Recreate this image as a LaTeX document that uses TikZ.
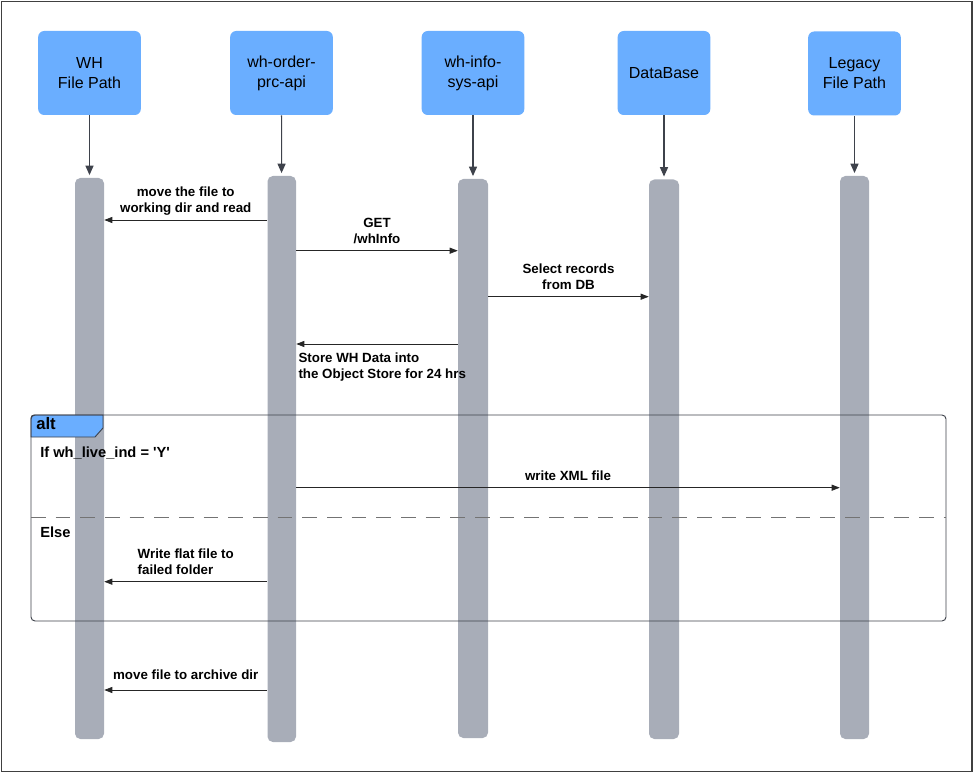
\documentclass[tikz,border=0pt]{standalone}
\usepackage{fontspec}
\setmainfont{Liberation Sans}
\usetikzlibrary{arrows.meta,fit}
\definecolor{headblue}{RGB}{106,174,255}
\definecolor{bargray}{RGB}{168,173,184}
\definecolor{linegray}{RGB}{62,66,75}

\begin{document}
\begin{tikzpicture}[x=0.75pt,y=0.75pt,yscale=-1,
  head/.style={fill=headblue, rounded corners=4.5pt, minimum width=77pt, minimum height=63pt, inner sep=0pt, align=center, font=\fontsize{12}{15}\selectfont},
  bar/.style={fill=bargray, rounded corners=4pt, inner sep=0pt},
  life/.style={draw=linegray, line width=0.8pt, -{Triangle[length=7pt,width=6pt]}, shorten >=2pt},
  msg/.style={draw=black!85, line width=0.55pt, -{Triangle[length=6pt,width=4.5pt]}},
  lbl/.style={font=\fontsize{10}{12}\selectfont\bfseries, align=center, inner sep=1.5pt, text depth=0pt},
  tag/.style={font=\fontsize{11}{13}\selectfont\bfseries, anchor=base west, inner sep=0pt}]
\useasboundingbox (0,0) rectangle (977,773);

%Shape: Rectangle [outer frame]
\draw [draw=black!75, line width=0.8pt] (1.5,1.5) rectangle (972,771.5);

%Shape: Rectangle [participants]
\node [head] (hWH) at (89.5,73) {WH\\File Path};
\node [head] (hOrd) at (281.5,73) {wh-order-\\prc-api};
\node [head] (hInfo) at (473,73) {wh-info-\\sys-api};
\node [head, minimum width=69.5pt] (hDB) at (664,73) {DataBase};
\node [head, minimum width=69.5pt] (hLeg) at (854.5,73.5) {Legacy\\File Path};

%Shape: Rectangle [lifelines]
\node [bar, fit={(75,178) (104,739)}] (bWH) {};
\node [bar, fit={(267.5,176) (296,742)}] (bOrd) {};
\node [bar, fit={(458,179) (488,738)}] (bInfo) {};
\node [bar, fit={(649,179.5) (679,739)}] (bDB) {};
\node [bar, fit={(840,176) (869,739)}] (bLeg) {};

%Straight Lines [participant to lifeline]
\draw [life] (hWH) -- (bWH);
\draw [life] (hOrd) -- (bOrd);
\draw [life] (hInfo) -- (bInfo);
\draw [life] (hDB) -- (bDB);
\draw [life] (hLeg) -- (bLeg);

%Shape: Rectangle [alt frame]
\draw [draw=linegray, line width=0.7pt, fill=headblue] (31,418) arc (180:270:3) -- (103,415) -- (103,428) -- (95,437) -- (31,437) -- cycle;
\draw [draw=linegray, line width=0.7pt, rounded corners=3pt] (31,415) rectangle (946,621);
\draw [draw=black!55, line width=0.9pt, dash pattern=on 11pt off 7.5pt] (31,517.7) -- (946,517.7);
% Text Node
\node [tag, font=\fontsize{12.5}{14}\selectfont\bfseries] (tAlt) at (36,429.5) {alt};
% Text Node
\node [tag] (tIf) at (40,457.3) {If wh\_live\_ind = \textquotesingle Y\textquotesingle};
% Text Node
\node [tag] (tElse) at (40,537.7) {Else};

%Straight Lines [messages]
\draw [msg] (bOrd.west |- 0,220) -- (bWH.east |- 0,220) node [lbl, midway, above=4pt] (mRead) {move the file to\\working dir and read};
\draw [msg] (bOrd.east |- 0,250.7) -- (bInfo.west |- 0,250.7) node [lbl, midway, above=3.5pt] (mGet) {GET\\/whInfo};
\draw [msg] (bInfo.east |- 0,296.7) -- (bDB.west |- 0,296.7) node [lbl, midway, above=3.5pt] (mSel) {Select records\\from DB};
\draw [msg] (bInfo.west |- 0,344) -- (bOrd.east |- 0,344);
% Text Node
\node [lbl, align=left, anchor=north west] (mStore) at (bOrd.east |- 0,350.5) {Store WH Data into\\the Object Store for 24 hrs};
\draw [msg] (bOrd.east |- 0,487.7) -- (bLeg.west |- 0,487.7) node [lbl, midway, above=3.5pt] (mXml) {write XML file};
\draw [msg] (bOrd.west |- 0,581.7) -- (bWH.east |- 0,581.7) node [lbl, align=left, midway, above=3.5pt] (mFail) {Write flat file to\\failed folder};
\draw [msg] (bOrd.west |- 0,690) -- (bWH.east |- 0,690) node [lbl, midway, above=6pt] (mArch) {move file to archive dir};

\end{tikzpicture}
\end{document}
